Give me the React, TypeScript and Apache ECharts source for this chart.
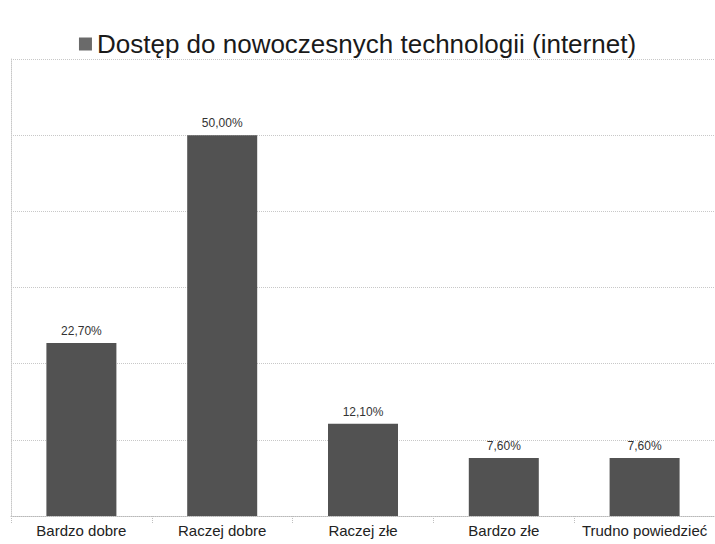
import React, { useEffect, useRef } from "react";
import * as echarts from "echarts";

const categories = ["Bardzo dobre", "Raczej dobre", "Raczej złe", "Bardzo złe", "Trudno powiedzieć"];
const values = [22.7, 50.0, 12.1, 7.6, 7.6];
const seriesName = "Dostęp do nowoczesnych technologii (internet)";

export default function App() {
  const ref = useRef<HTMLDivElement>(null);
  useEffect(() => {
    const chart = echarts.init(ref.current!, undefined, { renderer: "svg" });
    chart.setOption({
      animation: false,
      backgroundColor: "#ffffff",
      textStyle: { fontFamily: "Liberation Sans, Arial, sans-serif" },
      legend: {
        top: 26,
        left: "center",
        icon: "rect",
        itemWidth: 13,
        itemHeight: 13,
        itemGap: 6,
        itemStyle: { color: "#6a6a6a" },
        textStyle: { fontSize: 26, color: "#1a1a1a", fontFamily: "Liberation Sans, Arial, sans-serif" },
        data: [seriesName],
      },
      grid: { left: 11, top: 59, width: 710, bottom: 28, containLabel: false },
      xAxis: {
        type: "category",
        data: categories,
        axisLine: { show: true, lineStyle: { color: "#b8b8b8", type: "dotted" } },
        axisTick: { show: true, length: 8, lineStyle: { color: "#c0c0c0", type: "dotted" } },
        axisLabel: { color: "#222", fontSize: 15, margin: 7, interval: 0 },
      },
      yAxis: {
        type: "value",
        min: 0,
        max: 60,
        interval: 10,
        axisLine: { show: true, lineStyle: { color: "#c8c8c8", type: "dotted" } },
        axisTick: { show: false },
        axisLabel: { show: false },
        splitLine: { show: true, lineStyle: { color: "#c8c8c8", type: "dotted" } },
      },
      series: [
        {
          name: seriesName,
          type: "bar",
          data: values,
          barWidth: 70,
          itemStyle: { color: "#525252" },
          label: {
            show: true,
            position: "top",
            distance: 6,
            color: "#333",
            fontSize: 12,
            formatter: (p: any) => p.value.toFixed(2).replace(".", ",") + "%",
          },
        },
      ],
    });
    return () => chart.dispose();
  }, []);
  return (
    <div
      ref={ref}
      style={{ position: "absolute", left: 0, top: 0, width: 715, height: 544 }}
    />
  );
}
